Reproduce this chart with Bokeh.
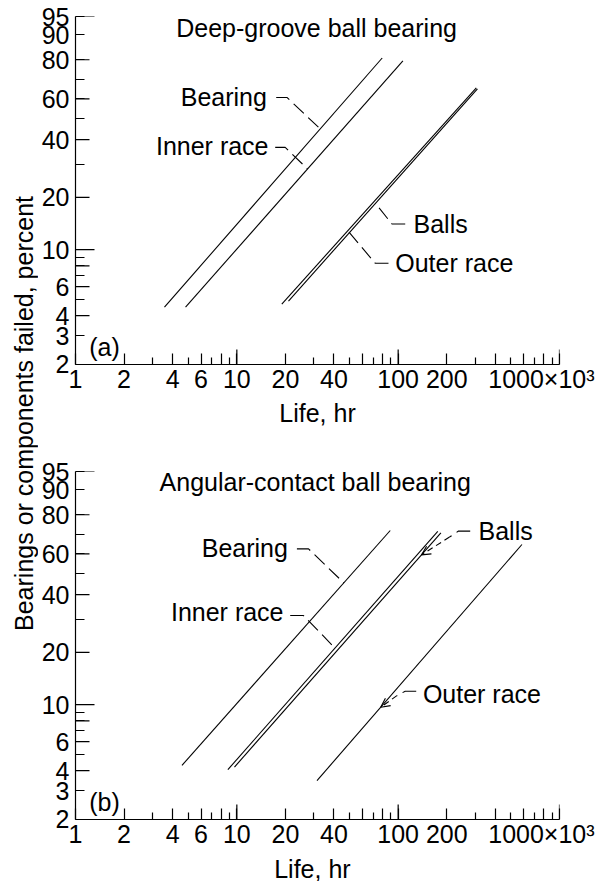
import numpy as np
from bokeh.plotting import figure
from bokeh.models import Range1d, FixedTicker, Label, Arrow, OpenHead
from bokeh.core.properties import value
from bokeh.layouts import row, column
from bokeh.embed import file_html
from bokeh.resources import INLINE

FONT = "Liberation Sans"
FS = "25px"

# ---------------- axis data ----------------
x_major = [1, 2, 4, 6, 8, 10, 20, 40, 60, 80, 100, 200, 400, 600, 800, 1000]
x_labels = ["1", "2", "4", "6", "", "10", "20", "40", "", "", "100", "200", "", "", "",
            "1000×10³\u00a0\u00a0"]
x_minor = [3, 5, 7, 9, 30, 50, 70, 90, 300, 500, 700, 900]
x_decades = [10, 100, 1000]
x_title = "Life, hr"

y_major = [2, 3, 4, 6, 8, 10, 20, 40, 60, 80, 90, 95]
y_labels = ["2", "3", "4", "6", "", "10", "20", "40", "60", "80", "90", "95"]
y_minor = [5, 7, 9, 30, 50, 70]
y_medium = [2, 4, 6, 8, 20, 40, 60, 80]
y_long = [10, 95]
y_title = "Bearings or components failed, percent"

# ---------------- series data (life in 10^3 hr, percent failed) ----------------
series = ["Bearing", "Inner race", "Balls", "Outer race"]

a_life_start = [3.56, 4.81, 20.9, 19.0]
a_life_end = [79.6, 107.0, 310.0, 305.0]
a_pct_start = [4.5, 4.5, 4.9, 4.7]
a_pct_end = [80.8, 79.5, 65.3, 65.8]

b_life_start = [4.57, 8.80, 9.67, 31.4]
b_life_end = [89.3, 176.0, 184.0, 585.0]
b_pct_start = [4.3, 4.05, 4.2, 3.47]
b_pct_end = [72.3, 71.8, 71.1, 65.0]


def W(p):
    p = np.asarray(p, dtype=float) / 100.0
    return np.log(-np.log(1.0 - p))


def wf(p):
    return float(W(p))


def attach(ls, le, ps, pe, target):
    t = (wf(target) - wf(ps)) / (wf(pe) - wf(ps))
    return float(10 ** (np.log10(ls) + t * (np.log10(le) - np.log10(ls))))


def make_panel(height, top, bottom, axis_label, title, title_pos, tag,
               life_start, life_end, pct_start, pct_end,
               labels, leaders, arrows):
    p = figure(width=570, height=height, x_axis_type="log",
               x_range=Range1d(0.99999, 1000.001),
               y_range=Range1d(wf(2) - 1e-6, wf(95) + 1e-6),
               output_backend="svg", toolbar_location=None,
               min_border_left=37, min_border_right=49,
               min_border_top=top, min_border_bottom=bottom)
    p.outline_line_color = None
    p.xgrid.visible = False
    p.ygrid.visible = False
    p.background_fill_color = "white"
    p.border_fill_color = "white"

    xa = p.xaxis[0]
    ya = p.yaxis[0]
    if axis_label:
        xa.axis_label = axis_label
    xa.ticker = FixedTicker(ticks=x_major, minor_ticks=x_minor)
    xa.major_label_overrides = {float(t): l for t, l in zip(x_major, x_labels)}
    ya.ticker = FixedTicker(ticks=[wf(v) for v in y_major],
                            minor_ticks=[wf(v) for v in y_minor])
    ya.major_label_overrides = {wf(v): l for v, l in zip(y_major, y_labels)}

    for ax in (xa, ya):
        ax.axis_line_color = "black"
        ax.axis_line_width = 1.2
        ax.major_tick_line_color = "black"
        ax.minor_tick_line_color = "black"
        ax.major_tick_line_width = 1.2
        ax.minor_tick_line_width = 1.2
        ax.major_tick_out = 0
        ax.minor_tick_out = 0
        ax.major_label_text_font = FONT
        ax.major_label_text_font_size = FS
        ax.major_label_text_color = "black"
    xa.major_tick_in = 11
    xa.minor_tick_in = 7
    xa.major_label_standoff = 0
    xa.axis_label_text_font = FONT
    xa.axis_label_text_font_size = FS
    xa.axis_label_text_font_style = "normal"
    xa.axis_label_text_color = "black"
    xa.axis_label_standoff = 3
    ya.major_tick_in = 9
    ya.minor_tick_in = 9
    ya.major_label_standoff = 6

    tick_kw = dict(line_color="black", line_width=1.2, length_units="screen")
    p.ray(x=[1.0] * len(y_medium), y=W(y_medium), length=14, angle=0, **tick_kw)
    p.ray(x=[1.0] * len(y_long), y=W(y_long), length=19, angle=0, **tick_kw)
    p.ray(x=x_decades, y=[wf(2)] * len(x_decades), length=15, angle=np.pi / 2, **tick_kw)

    for i in range(len(series)):
        p.line([life_start[i], life_end[i]], [wf(pct_start[i]), wf(pct_end[i])],
               line_color="black", line_width=1.1)

    def lbl(x, y, text, align):
        p.add_layout(Label(x=x, y=wf(y), text=text, text_font=FONT, text_font_size=FS,
                           text_align=align, text_baseline="middle", text_color="black"))

    lbl(title_pos[0], title_pos[1], title, "left")
    lbl(1.216, 2.55, tag, "left")
    for (x, y, text, align) in labels:
        lbl(x, y, text, align)

    def pt(q):
        if isinstance(q[0], str):
            i = series.index(q[0])
            return attach(life_start[i], life_end[i], pct_start[i], pct_end[i], q[1]), q[1]
        return q

    for pts in leaders:
        pts = [pt(q) for q in pts]
        p.line([q[0] for q in pts], [wf(q[1]) for q in pts],
               line_color="black", line_width=1.1, line_dash="14 6")
    for (s, e) in arrows:
        s = pt(s)
        e = pt(e)
        p.add_layout(Arrow(end=OpenHead(size=9, line_width=1.1, line_color="black"),
                           x_start=s[0], y_start=wf(s[1]), x_end=e[0], y_end=wf(e[1]),
                           line_color="black", line_width=1.1, line_dash="6 4"))
    return p


fa = make_panel(
    440, 16, 76, x_title, "Deep-groove ball bearing", (4.21, 92.1), "(a)",
    a_life_start, a_life_end, a_pct_start, a_pct_end,
    labels=[(15.36, 60.8, "Bearing", "right"),
            (15.72, 37.2, "Inner race", "right"),
            (124.5, 14.1, "Balls", "left"),
            (95.9, 8.29, "Outer race", "left")],
    leaders=[[(17.54, 60.8), (20.44, 60.8), ("Bearing", 44.9)],
             [(17.29, 36.7), (19.94, 36.7), ("Inner race", 28.5)],
             [(110.6, 14.1), (91.5, 14.1), ("Balls", 18.5)],
             [(87.1, 8.29), (72.0, 8.29), ("Outer race", 12.9)]],
    arrows=[])

fb = make_panel(
    412, 31, 33, None, "Angular-contact ball bearing", (3.32, 92.4), "(b)",
    b_life_start, b_life_end, b_pct_start, b_pct_end,
    labels=[(20.73, 63.2, "Bearing", "right"),
            (19.47, 32.8, "Inner race", "right"),
            (314.8, 72.0, "Balls", "left"),
            (142.3, 11.55, "Outer race", "left")],
    leaders=[[(23.57, 62.7), (27.82, 62.7), ("Bearing", 45.4)],
             [(21.42, 31.5), (25.9, 31.5), ("Inner race", 21.1)],
             [(279.6, 72.0), (236.6, 72.0), (208.1, 68.9)],
             [(129.4, 11.98), (110.6, 11.98), (98.2, 11.28)]],
    arrows=[((208.1, 68.9), ("Balls", 59.5)),
            ((98.2, 11.28), ("Outer race", 9.64))])


def strip(width, height):
    s = figure(width=width, height=height, x_range=Range1d(0, width), y_range=Range1d(0, height),
               output_backend="svg", toolbar_location=None, min_border=0,
               x_axis_location=None, y_axis_location=None)
    s.outline_line_color = None
    s.grid.visible = False
    return s


# bottom strip carrying the x-axis title of panel (b), centred under the frame
bs = strip(570, 29)
bs.text(x=[279], y=[13], text=[x_title], text_align="center", text_baseline="middle",
        text_font=value(FONT), text_font_size=value(FS), text_color="black")

# side strip holding the shared vertical axis title (y measured from the bottom)
lf = strip(38, 881)
lf.text(x=[23], y=[881 - 413], text=[y_title],
        angle=np.pi / 2, text_align="center", text_baseline="middle",
        text_font=value(FONT), text_font_size=value(FS), text_color="black")

layout = row(lf, column(fa, fb, bs))
open("out.html", "w").write(file_html(layout, INLINE))
